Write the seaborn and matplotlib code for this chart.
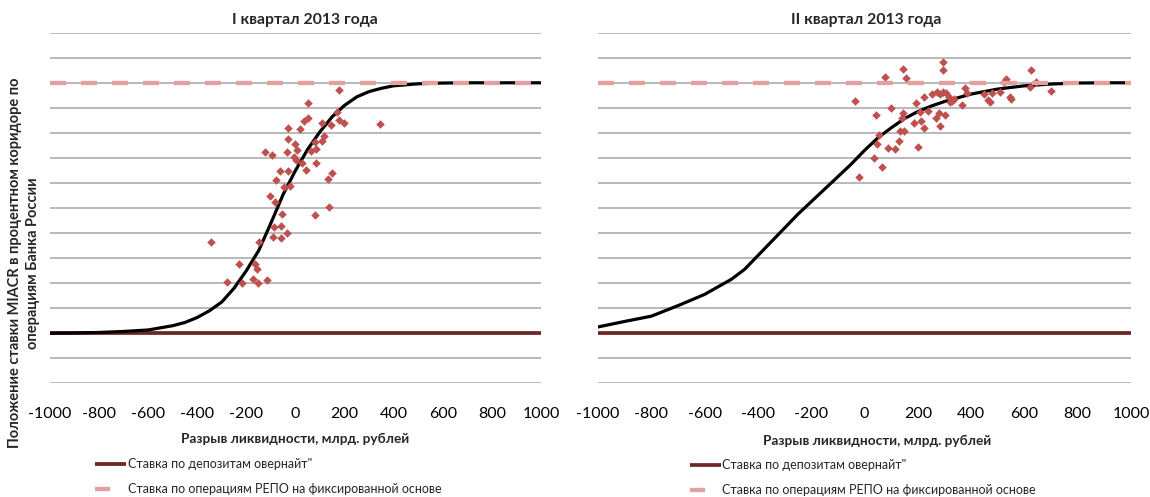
import numpy as np
import pandas as pd
import matplotlib
matplotlib.use("Agg")
import matplotlib.pyplot as plt
from matplotlib.lines import Line2D
import seaborn as sns

# ---- Data -------------------------------------------------------------
# Fitted curves (liquidity gap, bln rub -> position of MIACR in the corridor)
curve_q1_x = [-1000, -900, -800, -700, -600, -500, -450, -400, -350, -300,
              -250, -200, -150, -100, -50, 0, 50, 100, 150, 200,
              250, 300, 350, 400, 500, 600, 700, 800, 900, 1000]
curve_q1_y = [0.0, 0.001, 0.003, 0.007, 0.013, 0.03, 0.043, 0.063, 0.09, 0.125,
              0.18, 0.25, 0.33, 0.44, 0.555, 0.65, 0.735, 0.805, 0.865, 0.91,
              0.944, 0.965, 0.978, 0.988, 0.996, 0.999, 1.0, 1.0, 1.0, 1.0]

curve_q2_x = [-1000, -900, -800, -700, -600, -500, -450, -400, -350, -300,
              -250, -200, -150, -100, -50, 0, 50, 100, 150, 200,
              250, 300, 400, 500, 600, 700, 800, 900, 1000]
curve_q2_y = [0.025, 0.047, 0.068, 0.11, 0.155, 0.215, 0.255, 0.31, 0.365, 0.42,
              0.475, 0.525, 0.575, 0.625, 0.675, 0.73, 0.78, 0.82, 0.857, 0.885,
              0.907, 0.925, 0.955, 0.975, 0.988, 0.995, 0.999, 1.0, 1.0]

# Observations, Q1 2013
obs_q1_x = [178, 52, 168, 33, 52, 177, 196, 344, 109, 146,
            -32, 20, 115, 109, 79, -29, -3, -123, -96, -36,
            5, 62, 82, -7, 3, 25, 83, -63, -31, 43,
            149, 134, -78, -46, -22, -104, -83, 135, -56, 79,
            -86, -59, -93, -59, -36, -343, -149, -231, -164, -156,
            -279, -217, -172, -154, -115]
obs_q1_y = [0.971, 0.920, 0.884, 0.847, 0.858, 0.851, 0.840, 0.836, 0.840, 0.830,
            0.820, 0.814, 0.787, 0.767, 0.765, 0.775, 0.757, 0.725, 0.710, 0.722,
            0.731, 0.729, 0.735, 0.702, 0.692, 0.681, 0.681, 0.648, 0.648, 0.652,
            0.641, 0.615, 0.612, 0.585, 0.589, 0.549, 0.525, 0.505, 0.475, 0.472,
            0.424, 0.428, 0.385, 0.380, 0.401, 0.364, 0.364, 0.277, 0.275, 0.258,
            0.205, 0.200, 0.218, 0.201, 0.214]

# Observations, Q2 2013
obs_q2_x = [-37, 76, 146, 155, 293, 294, 625, 645, 622, 699,
            530, 522, 508, 546, 549, 478, 450, 465, 471, 378,
            385, 366, 253, 271, 283, 296, 306, 316, 327, 336,
            321, 224, 194, 101, 42, 143, 140, 208, 239, 281,
            302, 268, 186, 212, 224, 283, 133, 148, 56, 128,
            48, 89, 114, 201, 37, 67, -20]
obs_q2_y = [0.927, 1.024, 1.055, 1.018, 1.084, 1.051, 1.053, 1.002, 0.982, 0.968,
            1.015, 1.004, 0.962, 0.944, 0.935, 0.958, 0.954, 0.931, 0.922, 0.980,
            0.958, 0.911, 0.954, 0.964, 0.954, 0.964, 0.958, 0.944, 0.928, 0.934,
            0.924, 0.942, 0.918, 0.898, 0.872, 0.878, 0.858, 0.882, 0.887, 0.878,
            0.871, 0.860, 0.840, 0.847, 0.820, 0.826, 0.807, 0.807, 0.791, 0.767,
            0.754, 0.741, 0.734, 0.745, 0.701, 0.665, 0.625]

deposit_level = 0.0   # overnight deposit rate (lower bound of the corridor)
repo_level = 1.0      # fixed-rate repo rate (upper bound of the corridor)

x_ticks = [-1000, -800, -600, -400, -200, 0, 200, 400, 600, 800, 1000]
x_tick_labels = ["-1000", "-800", "-600", "-400", "-200", "0",
                 "200", "400", "600", "800", "1000"]

titles = ["I квартал 2013 года", "II квартал 2013 года"]
x_title = "Разрыв ликвидности, млрд. рублей"
y_title_lines = ["Положение ставки MIACR в процентном коридоре по",
                 "операциям Банка России"]
legend_labels = ["Ставка по депозитам овернайт\"",
                 "Ставка по операциям РЕПО на фиксированной основе"]

# ---- Style ------------------------------------------------------------
sns.set_style("white")
plt.rcParams["font.family"] = ["Lato", "Open Sans", "DejaVu Sans"]

GRID = "#A6A6A6"
DEP = "#6E2624"
REPO = "#E3A09E"
DOT = "#C0504D"

W, H = 1150, 497
fig = plt.figure(figsize=(W / 100, H / 100), dpi=100)

def fx(px):
    return px / W

def fy(py):
    return 1 - py / H

ax_top, ax_bot = 32.7, 383.3
panels = [
    (50, 541, curve_q1_x, curve_q1_y, obs_q1_x, obs_q1_y),
    (598, 1131, curve_q2_x, curve_q2_y, obs_q2_x, obs_q2_y),
]

axes = []
for i, (x0, x1, cx, cy, ox, oy) in enumerate(panels):
    ax = fig.add_axes([fx(x0), fy(ax_bot), (x1 - x0) / W, (ax_bot - ax_top) / H])
    axes.append(ax)
    ax.set_xlim(-1000, 1000)
    ax.set_ylim(-0.2, 1.2)
    ax.set_yticks(np.round(np.arange(-0.2, 1.21, 0.1), 2))
    ax.yaxis.grid(True, color=GRID, lw=1.1, zorder=0)
    ax.xaxis.grid(False)
    ax.set_axisbelow(True)
    for s in ax.spines.values():
        s.set_visible(False)
    ax.tick_params(axis="y", left=False, labelleft=False)
    ax.set_xticks(x_ticks)
    ax.set_xticklabels(x_tick_labels, fontsize=11.5, color="#000000")
    ax.tick_params(axis="x", bottom=False, pad=13.5)

    ax.axhline(deposit_level, color=DEP, lw=2.7, zorder=2, solid_capstyle="butt")

    curve = pd.DataFrame({"gap": cx, "pos": cy})
    sns.lineplot(data=curve, x="gap", y="pos", ax=ax, color="black", lw=2.3,
                 zorder=3, legend=False)

    obs = pd.DataFrame({"gap": ox, "pos": oy})
    sns.scatterplot(data=obs, x="gap", y="pos", ax=ax, marker="D", s=16,
                    color=DOT, edgecolor=DOT, linewidth=0.3, zorder=4, legend=False)

    ax.axhline(repo_level, color=REPO, lw=3.1, zorder=5, linestyle=(0, (3.7, 3.5)),
               dash_capstyle="butt")

    ax.set_xlabel("")
    ax.set_ylabel("")

# Titles
fig.text(fx(305), fy(20), titles[0], ha="center", va="center",
         fontsize=11.3, fontweight="bold")
fig.text(fx(866), fy(20), titles[1], ha="center", va="center",
         fontsize=11.3, fontweight="bold")

# Axis titles
fig.text(fx(295), fy(439), x_title, ha="center", va="center",
         fontsize=9.8, fontweight="bold")
fig.text(fx(877), fy(441), x_title, ha="center", va="center",
         fontsize=9.8, fontweight="bold")
fig.text(fx(15), fy(263), y_title_lines[0], ha="center", va="center", rotation=90,
         fontsize=10.5, fontweight="bold")
fig.text(fx(33), fy(263), y_title_lines[1], ha="center", va="center", rotation=90,
         fontsize=10.5, fontweight="bold")

# Legends
handles = [
    Line2D([], [], color=DEP, lw=2.7, solid_capstyle="butt"),
    Line2D([], [], color=REPO, lw=3.1, linestyle=(0, (3.5, 10)), dash_capstyle="butt"),
]
for (lx, ly) in [(95, 458), (690, 459)]:
    fig.legend(handles, legend_labels, loc="upper left",
               bbox_to_anchor=(fx(lx), fy(ly)), frameon=False,
               fontsize=9, handlelength=2.5, handletextpad=0.1,
               borderpad=0, borderaxespad=0, labelspacing=1.05)

fig.savefig("out.png", dpi=100)
